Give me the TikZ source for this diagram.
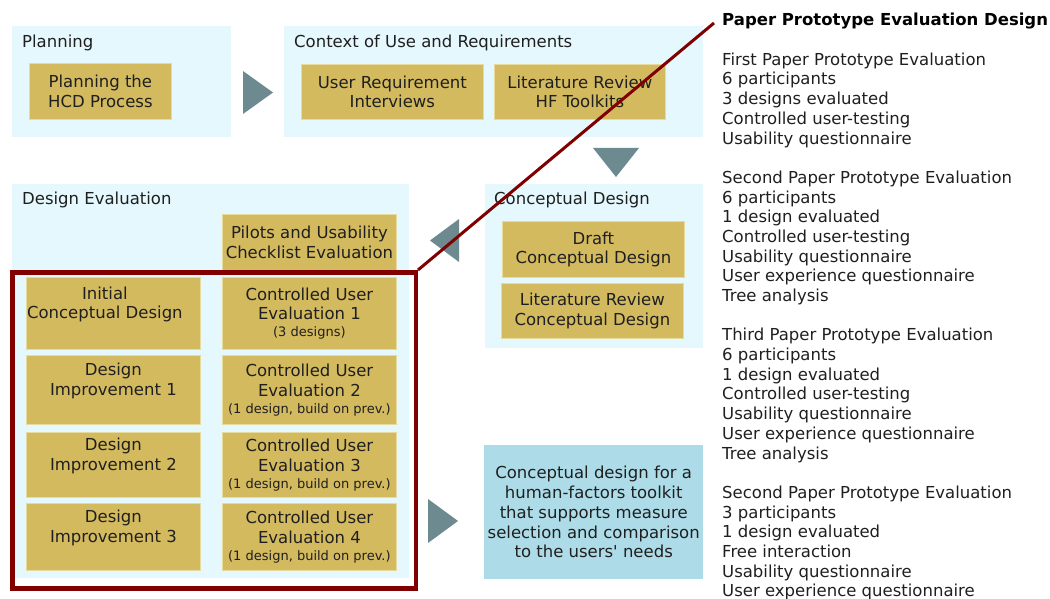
\documentclass[tikz,border=0pt]{standalone}
\usepackage{fontspec}
\setmainfont{DejaVu Sans}
\usetikzlibrary{positioning,calc}
\definecolor{panelblue}{HTML}{E5F8FE}
\definecolor{boxgold}{HTML}{D3BA5F}
\definecolor{boxedge}{HTML}{E6DA9E}
\definecolor{trigrey}{HTML}{6E8A91}
\definecolor{resultblue}{HTML}{ADDCE8}
\definecolor{framered}{HTML}{800000}
\newcommand{\bigtxt}{\fontsize{16.5}{19.7}\selectfont}
\newcommand{\smalltxt}{\fontsize{13}{15}\selectfont}
\begin{document}
\begin{tikzpicture}[x=1pt,y=-1pt,
  panel/.style={fill=panelblue},
  paneltitle/.style={anchor=west,inner sep=0pt,font=\bigtxt,text=black!88},
  box/.style={fill=boxgold,draw=boxedge,line width=0.8pt,align=center,
    inner sep=0pt,anchor=north west,font=\bigtxt,text=black!88},
  result/.style={fill=resultblue,align=center,inner sep=0pt,
    anchor=north west,font=\bigtxt,text=black!88},
  tri/.style={fill=trigrey},
  frame/.style={draw=framered,line width=4.5pt,inner sep=0pt,anchor=north west}]
  \useasboundingbox (0,0) rectangle (1050,599);
  %
  % Panels
  \fill[panel] (12,26) rectangle (231,137);
  \fill[panel] (284,26) rectangle (703,137);
  \fill[panel] (12,184) rectangle (409,578);
  \fill[panel] (485,184) rectangle (703,348);
  \node[paneltitle] (tplan) at (22,43) {Planning};
  \node[paneltitle] (tctx) at (294,43) {Context of Use and Requirements};
  \node[paneltitle] (teval) at (22,200) {Design Evaluation};
  \node[paneltitle] (tconc) at (494,200) {Conceptual Design};
  %
  % Planning and context boxes
  \node[box,minimum width=142,minimum height=56] (hcd) at (29,63)
    {Planning the\\HCD Process};
  \node[box,minimum width=182,minimum height=55] (uri) at (301,64)
    {User Requirement\\Interviews};
  \node[box,minimum width=171,minimum height=55] (lrhf) at (494,64)
    {Literature Review\\HF Toolkits};
  %
  % Conceptual design boxes
  \node[box,minimum width=182,minimum height=56] (draft) at (502,221)
    {Draft\\Conceptual Design};
  \node[box,minimum width=182,minimum height=55] (lrcd) at (501,283)
    {Literature Review\\Conceptual Design};
  %
  % Evaluation boxes
  \node[box,minimum width=174,minimum height=56] (pilot) at (222,214)
    {Pilots and Usability\\Checklist Evaluation};
  \node[box,minimum width=174,minimum height=72] (icd) at (26,277)
    {\hspace*{-17pt}Initial\\\hspace*{-17pt}Conceptual Design\\[-3pt]{\smalltxt\strut}};
  \node[box,minimum width=174,minimum height=72] (cue1) at (222,277)
    {Controlled User\\Evaluation 1\\[-3pt]{\smalltxt (3 designs)}};
  \node[box,minimum width=174,minimum height=69] (imp1) at (26,355)
    {Design\\Improvement 1\\[-3pt]{\smalltxt\strut}};
  \node[box,minimum width=174,minimum height=69] (cue2) at (222,355)
    {Controlled User\\Evaluation 2\\[-3pt]{\smalltxt (1 design, build on prev.)}};
  \node[box,minimum width=174,minimum height=65] (imp2) at (26,432)
    {Design\\Improvement 2\\[-3pt]{\smalltxt\strut}};
  \node[box,minimum width=174,minimum height=65] (cue3) at (222,432)
    {Controlled User\\Evaluation 3\\[-3pt]{\smalltxt (1 design, build on prev.)}};
  \node[box,minimum width=174,minimum height=67] (imp3) at (26,503)
    {Design\\Improvement 3\\[-3pt]{\smalltxt\strut}};
  \node[box,minimum width=174,minimum height=67] (cue4) at (222,503)
    {Controlled User\\Evaluation 4\\[-3pt]{\smalltxt (1 design, build on prev.)}};
  %
  % Outcome
  \node[result,minimum width=219,minimum height=134] (goal) at (484,445)
    {Conceptual design for a\\human-factors toolkit\\that supports measure\\
     selection and comparison\\to the users\textquotesingle{} needs};
  %
  % Flow triangles
  \fill[tri] (243,71) -- (273,92.5) -- (243,114) -- cycle;
  \fill[tri] (593,148) -- (639,148) -- (616,177) -- cycle;
  \fill[tri] (459,219) -- (430,240.5) -- (459,262) -- cycle;
  \fill[tri] (428,499) -- (458,521) -- (428,543) -- cycle;
  %
  % Study notes
  \node[anchor=west,inner sep=0pt,font=\bigtxt\bfseries] (notes) at (722,21)
    {Paper Prototype Evaluation Design};
  \node[anchor=north west,inner sep=0pt,align=left,font=\bigtxt,text=black!88]
    (studies) at (722,52.5)
    {First Paper Prototype Evaluation\\6 participants\\3 designs evaluated\\
     Controlled user-testing\\Usability questionnaire\\[19.6pt]
     Second Paper Prototype Evaluation\\6 participants\\1 design evaluated\\
     Controlled user-testing\\Usability questionnaire\\
     User experience questionnaire\\Tree analysis\\[19.6pt]
     Third Paper Prototype Evaluation\\6 participants\\1 design evaluated\\
     Controlled user-testing\\Usability questionnaire\\
     User experience questionnaire\\Tree analysis\\[19.6pt]
     Second Paper Prototype Evaluation\\3 participants\\1 design evaluated\\
     Free interaction\\Usability questionnaire\\User experience questionnaire};
  %
  % Highlight frame
  \node[frame,minimum width=403.5,minimum height=316] (focus) at (10,270) {};
  \coordinate (noteend) at (714,23);
  \draw[framered,line width=3pt] (focus.north east) -- (noteend);
  %
\end{tikzpicture}
\end{document}
